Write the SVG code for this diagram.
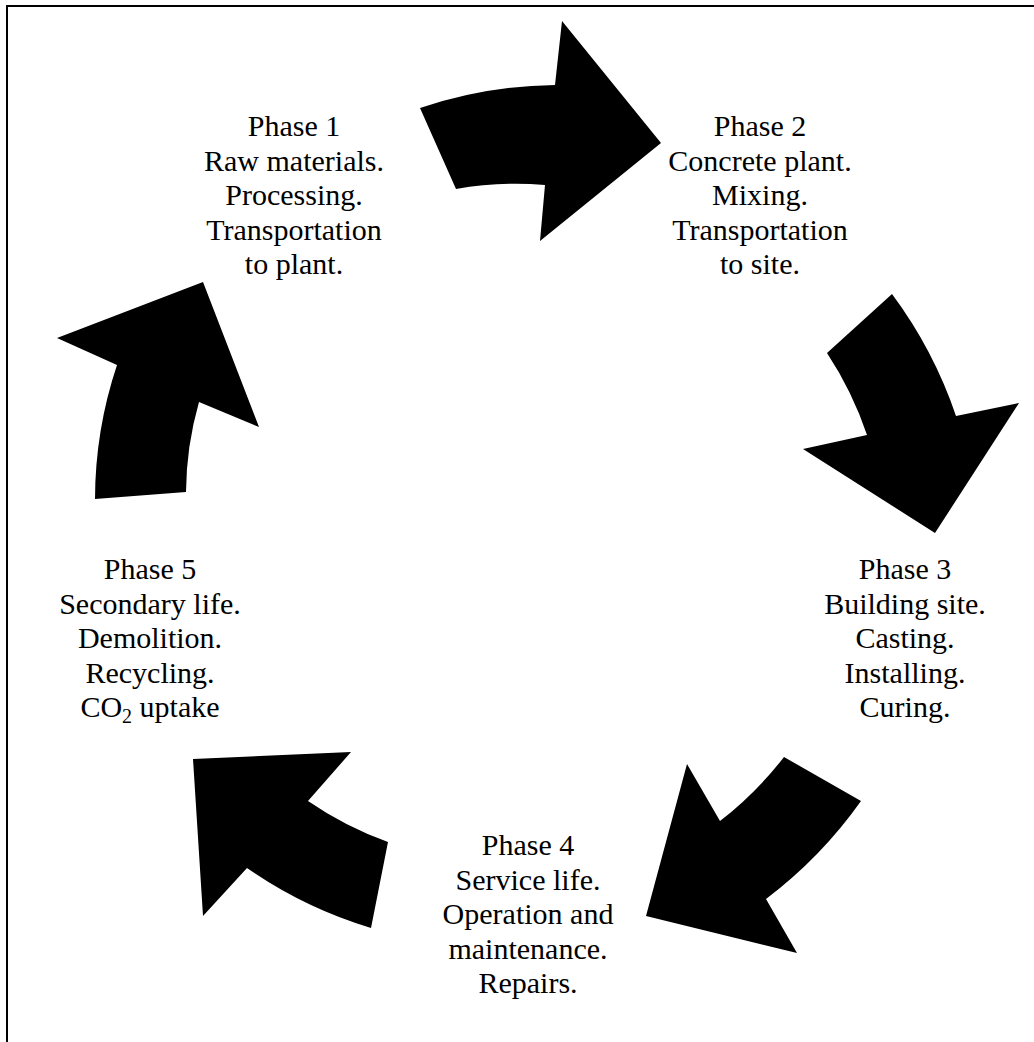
<svg xmlns="http://www.w3.org/2000/svg" width="1034" height="1042" viewBox="0 0 1034 1042">
<style>
.lbl{font-family:"Liberation Serif","Times New Roman",serif;font-size:30px;fill:#000;text-anchor:middle}
.arr{fill:#000;stroke:none}
</style>
<rect x="0" y="0" width="1034" height="1042" fill="#fff"/>
<rect x="7" y="6" width="1060" height="1080" fill="none" stroke="#000" stroke-width="2"/>
<g id="connectors">
<path id="arrow1" class="arr" d="M420,108 A435,435 0 0 1 555,85 L562,21 L661,143 L540,241 L545,185 A340,340 0 0 0 456,189 Z"/>
<path id="arrow2" class="arr" d="M892,294 A440,440 0 0 1 956,416 L1019,403 L935,533 L803,449 L867,435 A355,355 0 0 0 827,353 Z"/>
<path id="arrow3" class="arr" d="M861,801 A445,445 0 0 1 766,899 L797,953 L646,916 L687,764 L720,821 A360,360 0 0 0 784,757 Z"/>
<path id="arrow4" class="arr" d="M371,928 A436,436 0 0 1 247,868 L203,916 L193,759 L351,752 L308,801 A348,348 0 0 0 388,842 Z"/>
<path id="arrow5" class="arr" d="M95,499 A425,425 0 0 1 117,365 L57,338 L203,282 L259,427 L199,402 A336,336 0 0 0 186,492 Z"/>
</g>
<g id="phase1">
<text class="lbl" x="294" y="136"><tspan x="294">Phase 1</tspan><tspan x="294" dy="34.5">Raw materials.</tspan><tspan x="294" dy="34.5">Processing.</tspan><tspan x="294" dy="34.5">Transportation</tspan><tspan x="294" dy="34.5">to plant.</tspan></text>
</g>
<g id="phase2">
<text class="lbl" x="760" y="136"><tspan x="760">Phase 2</tspan><tspan x="760" dy="34.5">Concrete plant.</tspan><tspan x="760" dy="34.5">Mixing.</tspan><tspan x="760" dy="34.5">Transportation</tspan><tspan x="760" dy="34.5">to site.</tspan></text>
</g>
<g id="phase3">
<text class="lbl" x="905" y="579"><tspan x="905">Phase 3</tspan><tspan x="905" dy="34.5">Building site.</tspan><tspan x="905" dy="34.5">Casting.</tspan><tspan x="905" dy="34.5">Installing.</tspan><tspan x="905" dy="34.5">Curing.</tspan></text>
</g>
<g id="phase4">
<text class="lbl" x="528" y="855"><tspan x="528">Phase 4</tspan><tspan x="528" dy="34.5">Service life.</tspan><tspan x="528" dy="34.5">Operation and</tspan><tspan x="528" dy="34.5">maintenance.</tspan><tspan x="528" dy="34.5">Repairs.</tspan></text>
</g>
<g id="phase5">
<text class="lbl" x="150" y="579"><tspan x="150">Phase 5</tspan><tspan x="150" dy="34.5">Secondary life.</tspan><tspan x="150" dy="34.5">Demolition.</tspan><tspan x="150" dy="34.5">Recycling.</tspan></text>
<text class="lbl" x="150" y="717">CO<tspan font-size="20" dy="6">2</tspan><tspan dy="-6"> uptake</tspan></text>
</g>
</svg>
